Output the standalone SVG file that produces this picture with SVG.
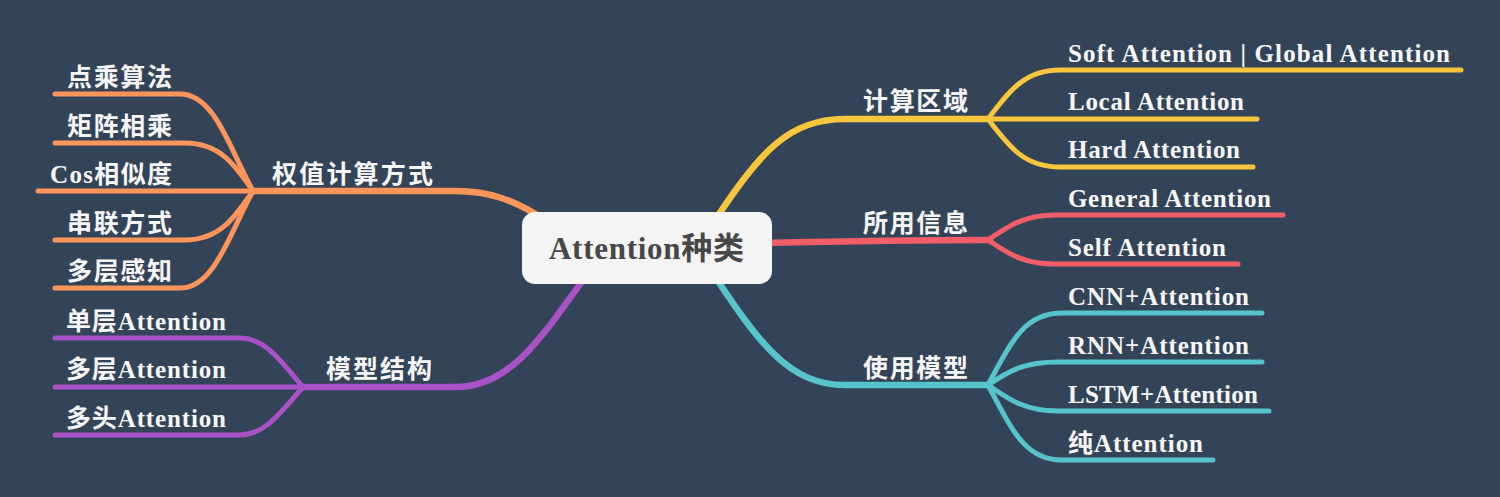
<svg xmlns="http://www.w3.org/2000/svg" width="1500" height="497" viewBox="0 0 1500 497">
<style>
.c{fill:none;stroke-linecap:round;stroke-linejoin:round}
.m{stroke-width:6.5}
.k{stroke-width:5}
.y{stroke:#f8c63d}.r{stroke:#f15d68}.t{stroke:#57c3ca}.o{stroke:#fb955a}.p{stroke:#a951c6}
.lb{font-family:"Liberation Serif","Noto Sans CJK SC",serif;font-weight:bold;font-size:25px;fill:#f7f7f7}
.ctr{font-family:"Liberation Serif","Noto Sans CJK SC",serif;font-weight:bold;font-size:31px;fill:#474747}
</style>
<rect width="1500" height="497" fill="#344458"/>
<g id="connectors">
<path class="c m y" d="M712 225 C760 150,790 119,845 119 L990 119"/>
<path class="c m r" d="M765 243 C850 241,900 240,990 240"/>
<path class="c m t" d="M712 272 C760 345,790 385,845 385 L990 385"/>
<path class="c m o" d="M548 222 C515 200,490 191,455 191 L253 191"/>
<path class="c m p" d="M590 270 C540 340,510 387,455 387 L303 387"/>
<path class="c k y" d="M988 119 C1010 90,1025 70,1060 70 L1461 70"/>
<path class="c k y" d="M988 119 L1257 119"/>
<path class="c k y" d="M988 119 C1010 148,1025 167,1060 167 L1253 167"/>
<path class="c k r" d="M988 240 C1010 225,1025 215,1055 215 L1283 215"/>
<path class="c k r" d="M988 240 C1010 255,1025 264,1055 264 L1238 264"/>
<path class="c k t" d="M988 385 C1012 340,1025 313,1062 313 L1262 313"/>
<path class="c k t" d="M988 385 C1010 370,1025 362,1058 362 L1262 362"/>
<path class="c k t" d="M988 385 C1010 400,1025 411,1058 411 L1269 411"/>
<path class="c k t" d="M988 385 C1012 430,1025 460,1062 460 L1213 460"/>
<path class="c k o" d="M253 191 C230 150,215 94,180 94 L55 94"/>
<path class="c k o" d="M253 191 C235 165,220 143,185 143 L55 143"/>
<path class="c k o" d="M253 191 L38 191"/>
<path class="c k o" d="M253 191 C235 217,220 240,185 240 L55 240"/>
<path class="c k o" d="M253 191 C230 232,215 288,180 288 L55 288"/>
<path class="c k p" d="M303 387 C280 360,265 338,240 338 L55 338"/>
<path class="c k p" d="M303 387 L55 387"/>
<path class="c k p" d="M303 387 C280 413,265 435,240 435 L55 435"/>
</g>
<g id="root">
<rect x="522" y="212" width="250" height="72" rx="13" fill="#f4f4f4"/>
<text class="ctr" x="549" y="259" textLength="195">Attention种类</text>
</g>
<g id="n-jisuanquyu"><text class="lb" x="863" y="110" textLength="105">计算区域</text></g>
<g id="n-suoyongxinxi"><text class="lb" x="863" y="232" textLength="105">所用信息</text></g>
<g id="n-shiyongmoxing"><text class="lb" x="863" y="377" textLength="105">使用模型</text></g>
<g id="n-quanzhi"><text class="lb" x="272" y="183" textLength="161">权值计算方式</text></g>
<g id="n-moxingjiegou"><text class="lb" x="326" y="378" textLength="106">模型结构</text></g>
<g id="n-soft"><text class="lb" x="1068" y="62" textLength="382">Soft Attention | Global Attention</text></g>
<g id="n-local"><text class="lb" x="1068" y="110" textLength="176">Local Attention</text></g>
<g id="n-hard"><text class="lb" x="1068" y="158" textLength="172">Hard Attention</text></g>
<g id="n-general"><text class="lb" x="1068" y="207" textLength="203">General Attention</text></g>
<g id="n-self"><text class="lb" x="1068" y="256" textLength="158">Self Attention</text></g>
<g id="n-cnn"><text class="lb" x="1068" y="305" textLength="181">CNN+Attention</text></g>
<g id="n-rnn"><text class="lb" x="1068" y="354" textLength="181">RNN+Attention</text></g>
<g id="n-lstm"><text class="lb" x="1068" y="403" textLength="190">LSTM+Attention</text></g>
<g id="n-chun"><text class="lb" x="1068" y="452" textLength="135">纯Attention</text></g>
<g id="n-diancheng"><text class="lb" x="67" y="86" textLength="105">点乘算法</text></g>
<g id="n-juzhen"><text class="lb" x="67" y="135" textLength="105">矩阵相乘</text></g>
<g id="n-cos"><text class="lb" x="50" y="183" textLength="122">Cos相似度</text></g>
<g id="n-chuanlian"><text class="lb" x="67" y="232" textLength="105">串联方式</text></g>
<g id="n-duocengganzhi"><text class="lb" x="67" y="280" textLength="105">多层感知</text></g>
<g id="n-dancengatt"><text class="lb" x="66" y="330" textLength="160">单层Attention</text></g>
<g id="n-duocengatt"><text class="lb" x="66" y="378" textLength="160">多层Attention</text></g>
<g id="n-duotouatt"><text class="lb" x="66" y="427" textLength="160">多头Attention</text></g>
</svg>
